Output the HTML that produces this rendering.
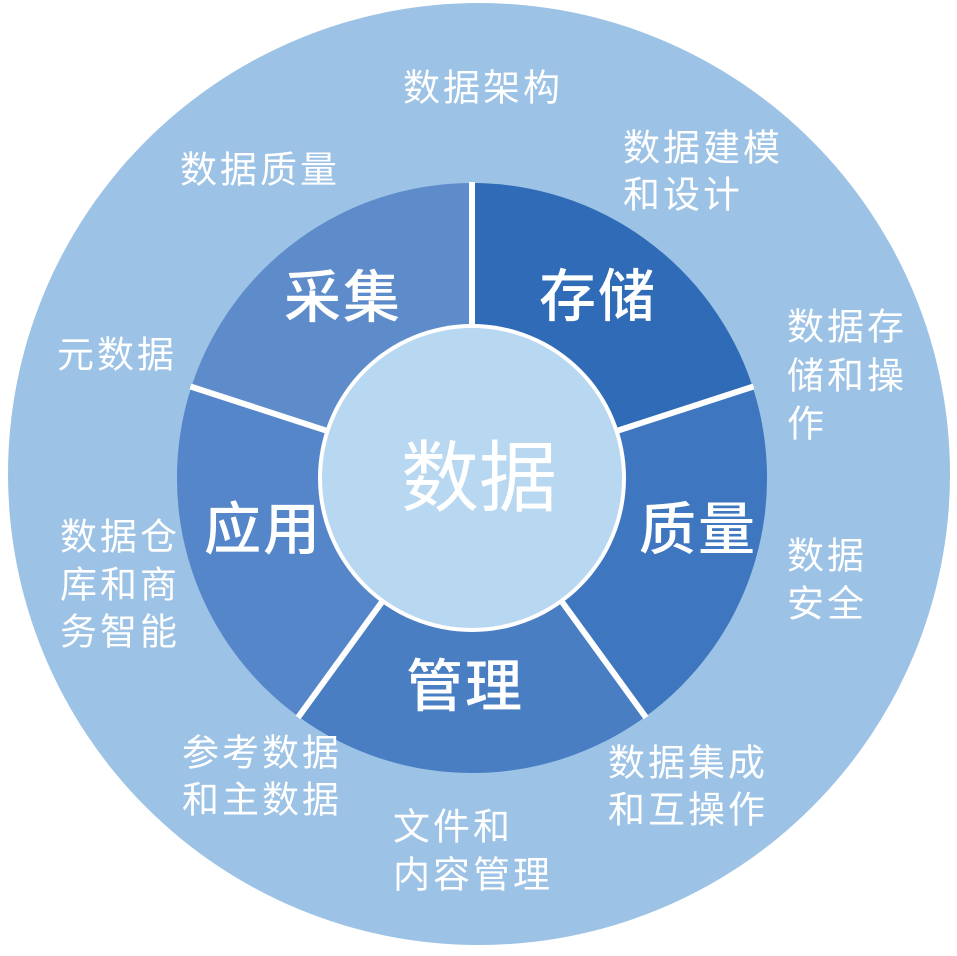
<!DOCTYPE html>
<html><head><meta charset="utf-8"><style>
html,body{margin:0;padding:0;background:#fff;}
svg text{font-family:"Liberation Sans","Noto Sans CJK SC",sans-serif;fill:#fff;dominant-baseline:central;}
.o{font-size:37px;letter-spacing:3px;}
.s{font-size:57px;font-weight:500;text-anchor:middle;letter-spacing:2px;}
</style></head><body>
<svg width="957" height="951" viewBox="0 0 957 951" xmlns="http://www.w3.org/2000/svg">
<circle cx="479" cy="474" r="471" fill="#9cc2e5"/>
<g transform="translate(472,478)">
<path d="M0 0 L-280.6 -91.2 A295 295 0 0 1 0 -295 Z" fill="#5e8ccb"/>
<path d="M0 0 L0 -295 A295 295 0 0 1 280.6 -91.2 Z" fill="#2f6bb6"/>
<path d="M0 0 L280.6 -91.2 A295 295 0 0 1 173.4 238.7 Z" fill="#3e77c0"/>
<path d="M0 0 L173.4 238.7 A295 295 0 0 1 -173.4 238.7 Z" fill="#497ec3"/>
<path d="M0 0 L-173.4 238.7 A295 295 0 0 1 -280.6 -91.2 Z" fill="#5586c9"/>
<g stroke="#fff" stroke-width="6">
<line x1="0" y1="0" x2="0" y2="-296"/>
<line x1="0" y1="0" x2="281.5" y2="-91.5"/>
<line x1="0" y1="0" x2="174" y2="239.5"/>
<line x1="0" y1="0" x2="-174" y2="239.5"/>
<line x1="0" y1="0" x2="-281.5" y2="-91.5"/>
</g>
<circle cx="0" cy="0" r="154" fill="#fff"/>
<circle cx="0" cy="0" r="150" fill="#b8d7f0"/>
</g>
<text x="479" y="478" style="font-size:78px;text-anchor:middle">数据</text>
<text class="s" x="343" y="298">采集</text>
<text class="s" x="598" y="297">存储</text>
<text class="s" x="698" y="530">质量</text>
<text class="s" x="263" y="530">应用</text>
<text class="s" x="465" y="687">管理</text>
<text class="o" x="403" y="88">数据架构</text>
<text class="o" x="180" y="170">数据质量</text>
<text class="o" x="623" y="148">数据建模</text>
<text class="o" x="623" y="195">和设计</text>
<text class="o" x="787" y="327">数据存</text>
<text class="o" x="787" y="376">储和操</text>
<text class="o" x="787" y="424">作</text>
<text class="o" x="57" y="355">元数据</text>
<text class="o" x="60" y="537">数据仓</text>
<text class="o" x="60" y="585">库和商</text>
<text class="o" x="60" y="632">务智能</text>
<text class="o" x="787" y="556">数据</text>
<text class="o" x="787" y="604">安全</text>
<text class="o" x="608" y="763">数据集成</text>
<text class="o" x="608" y="810">和互操作</text>
<text class="o" x="182" y="753">参考数据</text>
<text class="o" x="182" y="800">和主数据</text>
<text class="o" x="393" y="827">文件和</text>
<text class="o" x="393" y="875">内容管理</text>
</svg>
</body></html>
